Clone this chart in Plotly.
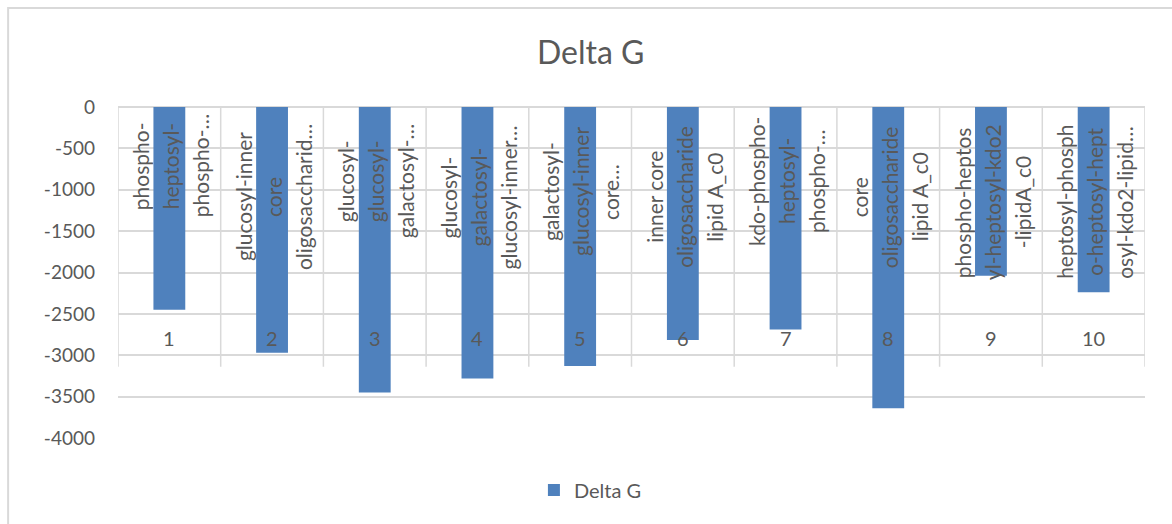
import plotly.graph_objects as go

# ---- data ----
categories = [1, 2, 3, 4, 5, 6, 7, 8, 9, 10]
category_labels = ["1", "2", "3", "4", "5", "6", "7", "8", "9", "10"]
delta_g = [-2450, -2970, -3450, -3280, -3130, -2815, -2690, -3640, -2040, -2240]
name_lines = [
    ["phospho-", "heptosyl-", "phospho-…"],
    ["glucosyl-inner", "core", "oligosaccharid…"],
    ["glucosyl-", "glucosyl-", "galactosyl-…"],
    ["glucosyl-", "galactosyl-", "glucosyl-inner…"],
    ["galactosyl-", "glucosyl-inner", "core…"],
    ["inner core", "oligosaccharide", "lipid A_c0"],
    ["kdo-phospho-", "heptosyl-", "phospho-…"],
    ["core", "oligosaccharide", "lipid A_c0"],
    ["phospho-heptos", "yl-heptosyl-kdo2", "-lipidA_c0"],
    ["heptosyl-phosph", "o-heptosyl-hept", "osyl-kdo2-lipid…"],
]
y_ticks = [0, -500, -1000, -1500, -2000, -2500, -3000, -3500, -4000]

# ---- styles ----
BAR_COLOR = "#4F81BD"
TEXT_COLOR = "#595959"
GRID_COLOR = "#D9D9D9"
FONT = "Lato"
DIVIDER_BOTTOM = -3140
CHAR_W = 10.4

fig = go.Figure()
fig.add_trace(go.Bar(
    x=categories, y=delta_g, name="Delta G",
    marker=dict(color=BAR_COLOR, line=dict(width=0)),
    width=0.31,
))

annotations = []
for cat, lines in zip(categories, name_lines):
    maxw = max(len(s) for s in lines) * CHAR_W
    for j, s in enumerate(lines):
        annotations.append(dict(
            x=cat, y=0, xref="x", yref="y", text=s, showarrow=False,
            textangle=-90, xanchor="center", yanchor="middle",
            xshift=(j - 1) * 30 + 1, yshift=-(12 + maxw / 2),
            font=dict(family=FONT, size=21, color=TEXT_COLOR),
        ))
for cat, lab in zip(categories, category_labels):
    annotations.append(dict(
        x=cat, y=0, xref="x", yref="y", text=lab, showarrow=False,
        xanchor="center", yanchor="middle", yshift=-231,
        font=dict(family=FONT, size=20, color=TEXT_COLOR),
    ))

shapes = []
for k in range(len(categories) + 1):
    shapes.append(dict(
        type="line", xref="x", yref="y",
        x0=categories[0] - 0.5 + k, x1=categories[0] - 0.5 + k,
        y0=0, y1=DIVIDER_BOTTOM, line=dict(color=GRID_COLOR, width=1.5),
        layer="below",
    ))
shapes.append(dict(
    type="rect", xref="paper", yref="paper",
    x0=-0.107, x1=1.2, y0=1.299, y1=-0.6,
    line=dict(color=GRID_COLOR, width=2), fillcolor="rgba(0,0,0,0)",
))

fig.update_layout(
    width=1172, height=524,
    margin=dict(l=118, r=27, t=107, b=86),
    paper_bgcolor="white", plot_bgcolor="white",
    title=dict(text="Delta G", x=0.504, xref="container", xanchor="center",
               y=0.899, yref="container", yanchor="middle",
               font=dict(family=FONT, size=32, color=TEXT_COLOR)),
    font=dict(family=FONT, color=TEXT_COLOR),
    xaxis=dict(range=[0.5, 10.5], showticklabels=False, showgrid=False,
               zeroline=False, showline=False, ticks=""),
    yaxis=dict(range=[-4000, 0], tickvals=y_ticks,
               ticktext=[str(v) for v in y_ticks],
               showgrid=True, gridcolor=GRID_COLOR, gridwidth=1.5,
               zeroline=True, zerolinecolor=GRID_COLOR, zerolinewidth=1.5,
               showline=False, ticks="", ticklabelstandoff=22,
               tickfont=dict(family=FONT, size=19, color=TEXT_COLOR)),
    showlegend=True,
    legend=dict(orientation="h", x=0.46, xanchor="center", y=-0.157,
                yanchor="middle", font=dict(family=FONT, size=20, color=TEXT_COLOR)),
    annotations=annotations,
    shapes=shapes,
)

fig.write_html("out.html")
